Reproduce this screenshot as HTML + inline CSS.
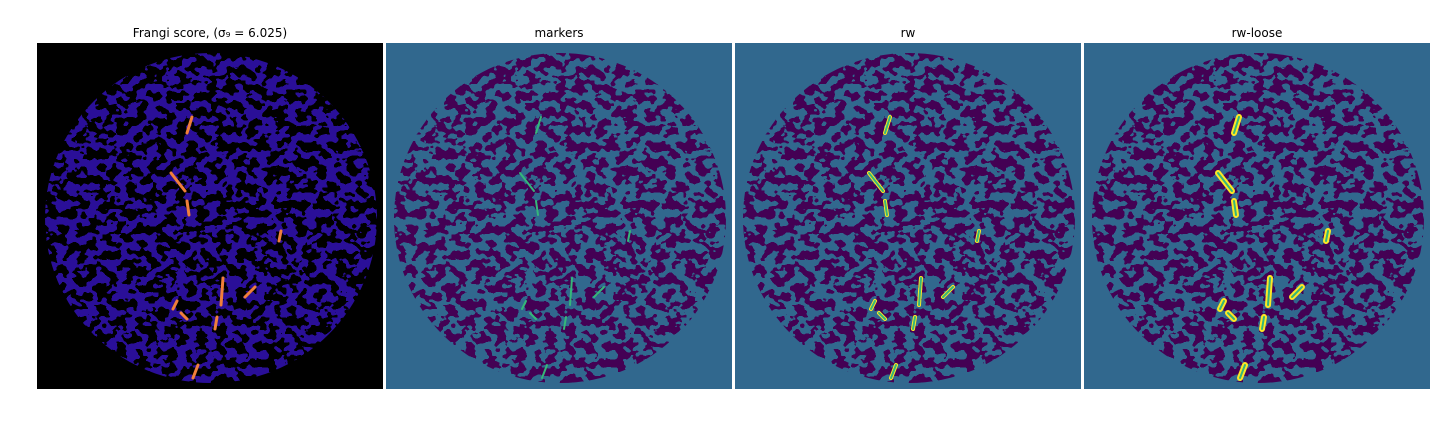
<!DOCTYPE html>
<html><head><meta charset="utf-8"><style>
html,body{margin:0;padding:0;background:#fff;width:1440px;height:432px;overflow:hidden}
svg text{font-family:"DejaVu Sans","Liberation Sans",sans-serif;font-size:12px;fill:#000}
</style></head><body>
<svg id="fig" width="1440" height="432" xmlns="http://www.w3.org/2000/svg">
<defs>
<filter id="lab" filterUnits="userSpaceOnUse" x="0" y="0" width="346" height="346" color-interpolation-filters="sRGB">
<feTurbulence type="fractalNoise" baseFrequency="0.1 0.12" numOctaves="2" seed="7" result="n"/>
<feColorMatrix in="n" type="matrix" values="0 0 0 0 0  0 0 0 0 0  0 0 0 0 0  1 0 0 0 0" result="a"/>
<feComponentTransfer in="a" result="t"><feFuncA type="discrete" tableValues="1 1 1 1 1 0 0 0 0 0"/></feComponentTransfer>
<feFlood flood-color="#440154" result="c"/>
<feComposite in="c" in2="t" operator="in"/>
</filter>
<filter id="fr" filterUnits="userSpaceOnUse" x="0" y="0" width="346" height="346" color-interpolation-filters="sRGB">
<feTurbulence type="fractalNoise" baseFrequency="0.1 0.12" numOctaves="2" seed="7" result="n"/>
<feColorMatrix in="n" type="matrix" values="0 0 0 0 0  0 0 0 0 0  0 0 0 0 0  1 0 0 0 0" result="a"/>
<feComponentTransfer in="a" result="t"><feFuncA type="discrete" tableValues="0 0 0 0 0 1 1 1 1 1"/></feComponentTransfer>
<feFlood flood-color="#2a0f98" result="c"/>
<feComposite in="c" in2="t" operator="in"/>
</filter>
<clipPath id="disc"><ellipse cx="174" cy="175" rx="166" ry="165"/></clipPath>
</defs>
</svg>
<script>
const titles=["Frangi score, (σ₉ = 6.025)","markers","rw","rw-loose"];
const panelX=[37,386,735,1084];
const vessels=[[155,74,150,90],[134,130,148,148],[150,158,152,172],[186,235,184,262],[218,244,208,254],[180,274,178,286],[161,322,156,335],[244,188,242,198],[140,258,136,266],[144,270,150,276]];
const ns="http://www.w3.org/2000/svg";
const fig=document.getElementById('fig');
function mk(t,a,p){const e=document.createElementNS(ns,t);for(const k in a)e.setAttribute(k,a[k]);p.appendChild(e);return e;}
panelX.forEach((px,i)=>{
  const g=mk('g',{transform:`translate(${px},43)`},fig);
  
  
  mk('rect',{x:0,y:0,width:346,height:346,fill:i==0?'#000':'#31688e'},g);
  const d=mk('g',{'clip-path':'url(#disc)'},g);
  mk('rect',{x:0,y:0,width:346,height:346,filter:i==0?'url(#fr)':'url(#lab)'},d);
  if(i==0){
    vessels.forEach(v=>{const l=mk('line',{x1:v[0],y1:v[1],x2:v[2],y2:v[3],stroke:'#f07f3a','stroke-width':3,'stroke-linecap':'round'},d);
    });
  } else {
    const w=i==1?2:(i==2?4:6);
    vessels.forEach(v=>{
      if(i>1){const o=mk('line',{x1:v[0],y1:v[1],x2:v[2],y2:v[3],stroke:'#fde725','stroke-width':w,'stroke-linecap':'round'},d);
      }
      const m=mk('line',{x1:v[0],y1:v[1],x2:v[2],y2:v[3],stroke:'#35b779','stroke-width':2,'stroke-linecap':'round'},d);
      
    });
  }
  const t=mk('text',{x:px+173,y:37,'text-anchor':'middle'},fig);
  t.textContent=titles[i];
  
  
});
</script>
</body></html>
